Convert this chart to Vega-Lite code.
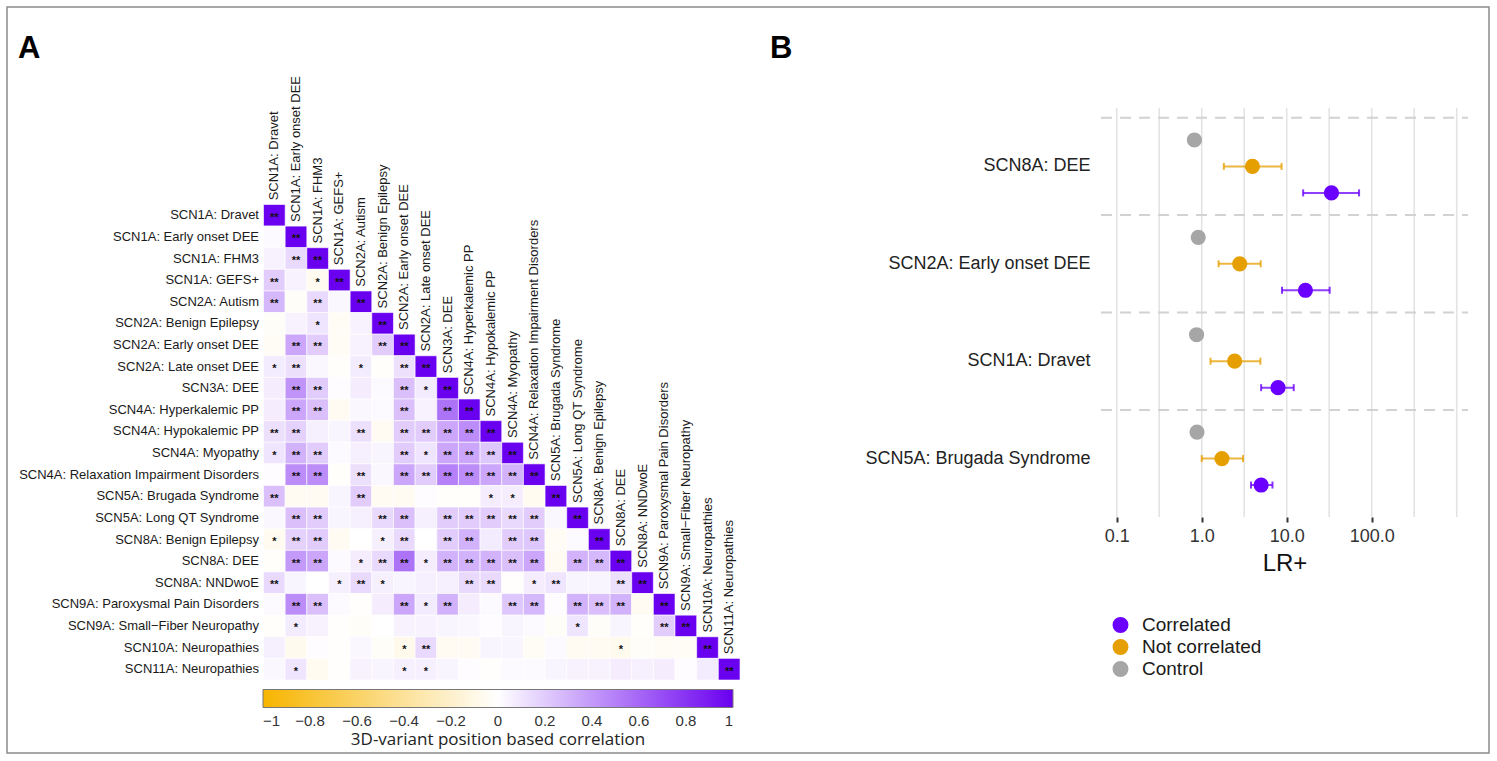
{
"$schema": "https://vega.github.io/schema/vega-lite/v6.json",
"width": 1482, "height": 746,
"autosize": "none",
"padding": {"left": 7, "top": 7, "right": 8, "bottom": 8},
"background": "white",
"config": {"font": "Liberation Sans", "view": {"stroke": "#8a8a8a", "strokeWidth": 1.5}},
"datasets": {
"labels": [
{"i":0,"name":"SCN1A: Dravet"},{"i":1,"name":"SCN1A: Early onset DEE"},{"i":2,"name":"SCN1A: FHM3"},{"i":3,"name":"SCN1A: GEFS+"},
{"i":4,"name":"SCN2A: Autism"},{"i":5,"name":"SCN2A: Benign Epilepsy"},{"i":6,"name":"SCN2A: Early onset DEE"},{"i":7,"name":"SCN2A: Late onset DEE"},
{"i":8,"name":"SCN3A: DEE"},{"i":9,"name":"SCN4A: Hyperkalemic PP"},{"i":10,"name":"SCN4A: Hypokalemic PP"},{"i":11,"name":"SCN4A: Myopathy"},
{"i":12,"name":"SCN4A: Relaxation Impairment Disorders"},{"i":13,"name":"SCN5A: Brugada Syndrome"},{"i":14,"name":"SCN5A: Long QT Syndrome"},
{"i":15,"name":"SCN8A: Benign Epilepsy"},{"i":16,"name":"SCN8A: DEE"},{"i":17,"name":"SCN8A: NNDwoE"},{"i":18,"name":"SCN9A: Paroxysmal Pain Disorders"},
{"i":19,"name":"SCN9A: Small−Fiber Neuropathy"},{"i":20,"name":"SCN10A: Neuropathies"},{"i":21,"name":"SCN11A: Neuropathies"}
],
"corr": [
{"ri":0,"ci":0,"v":1,"s":"**"},
{"ri":1,"ci":0,"v":0.02,"s":""},{"ri":1,"ci":1,"v":1,"s":"**"},
{"ri":2,"ci":0,"v":0.05,"s":""},{"ri":2,"ci":1,"v":0.15,"s":"**"},{"ri":2,"ci":2,"v":1,"s":"**"},
{"ri":3,"ci":0,"v":0.2,"s":"**"},{"ri":3,"ci":1,"v":0.05,"s":""},{"ri":3,"ci":2,"v":-0.06,"s":"*"},{"ri":3,"ci":3,"v":1,"s":"**"},
{"ri":4,"ci":0,"v":0.28,"s":"**"},{"ri":4,"ci":1,"v":-0.03,"s":""},{"ri":4,"ci":2,"v":0.15,"s":"**"},{"ri":4,"ci":3,"v":0.03,"s":""},{"ri":4,"ci":4,"v":1,"s":"**"},
{"ri":5,"ci":0,"v":-0.03,"s":""},{"ri":5,"ci":1,"v":0.05,"s":""},{"ri":5,"ci":2,"v":0.1,"s":"*"},{"ri":5,"ci":3,"v":-0.04,"s":""},{"ri":5,"ci":4,"v":0.05,"s":""},{"ri":5,"ci":5,"v":1,"s":"**"},
{"ri":6,"ci":0,"v":-0.04,"s":""},{"ri":6,"ci":1,"v":0.35,"s":"**"},{"ri":6,"ci":2,"v":0.2,"s":"**"},{"ri":6,"ci":3,"v":-0.04,"s":""},{"ri":6,"ci":4,"v":0.05,"s":""},{"ri":6,"ci":5,"v":0.2,"s":"**"},{"ri":6,"ci":6,"v":1,"s":"**"},
{"ri":7,"ci":0,"v":0.08,"s":"*"},{"ri":7,"ci":1,"v":0.12,"s":"**"},{"ri":7,"ci":2,"v":0.03,"s":""},{"ri":7,"ci":3,"v":-0.02,"s":""},{"ri":7,"ci":4,"v":0.08,"s":"*"},{"ri":7,"ci":5,"v":-0.02,"s":""},{"ri":7,"ci":6,"v":0.12,"s":"**"},{"ri":7,"ci":7,"v":1,"s":"**"},
{"ri":8,"ci":0,"v":0.07,"s":""},{"ri":8,"ci":1,"v":0.42,"s":"**"},{"ri":8,"ci":2,"v":0.2,"s":"**"},{"ri":8,"ci":3,"v":0.01,"s":""},{"ri":8,"ci":4,"v":0.07,"s":""},{"ri":8,"ci":5,"v":0.02,"s":""},{"ri":8,"ci":6,"v":0.25,"s":"**"},{"ri":8,"ci":7,"v":0.08,"s":"*"},{"ri":8,"ci":8,"v":1,"s":"**"},
{"ri":9,"ci":0,"v":0.07,"s":""},{"ri":9,"ci":1,"v":0.35,"s":"**"},{"ri":9,"ci":2,"v":0.25,"s":"**"},{"ri":9,"ci":3,"v":-0.05,"s":""},{"ri":9,"ci":4,"v":0.03,"s":""},{"ri":9,"ci":5,"v":0.02,"s":""},{"ri":9,"ci":6,"v":0.25,"s":"**"},{"ri":9,"ci":7,"v":0.05,"s":""},{"ri":9,"ci":8,"v":0.55,"s":"**"},{"ri":9,"ci":9,"v":1,"s":"**"},
{"ri":10,"ci":0,"v":0.12,"s":"**"},{"ri":10,"ci":1,"v":0.18,"s":"**"},{"ri":10,"ci":2,"v":0.06,"s":""},{"ri":10,"ci":3,"v":0.04,"s":""},{"ri":10,"ci":4,"v":0.12,"s":"**"},{"ri":10,"ci":5,"v":-0.05,"s":""},{"ri":10,"ci":6,"v":0.2,"s":"**"},{"ri":10,"ci":7,"v":0.2,"s":"**"},{"ri":10,"ci":8,"v":0.35,"s":"**"},{"ri":10,"ci":9,"v":0.45,"s":"**"},{"ri":10,"ci":10,"v":1,"s":"**"},
{"ri":11,"ci":0,"v":0.1,"s":"*"},{"ri":11,"ci":1,"v":0.3,"s":"**"},{"ri":11,"ci":2,"v":0.2,"s":"**"},{"ri":11,"ci":3,"v":0.02,"s":""},{"ri":11,"ci":4,"v":0.06,"s":""},{"ri":11,"ci":5,"v":0.04,"s":""},{"ri":11,"ci":6,"v":0.2,"s":"**"},{"ri":11,"ci":7,"v":0.1,"s":"*"},{"ri":11,"ci":8,"v":0.35,"s":"**"},{"ri":11,"ci":9,"v":0.35,"s":"**"},{"ri":11,"ci":10,"v":0.22,"s":"**"},{"ri":11,"ci":11,"v":1,"s":"**"},
{"ri":12,"ci":0,"v":0.01,"s":""},{"ri":12,"ci":1,"v":0.45,"s":"**"},{"ri":12,"ci":2,"v":0.45,"s":"**"},{"ri":12,"ci":3,"v":-0.02,"s":""},{"ri":12,"ci":4,"v":0.12,"s":"**"},{"ri":12,"ci":5,"v":0.03,"s":""},{"ri":12,"ci":6,"v":0.35,"s":"**"},{"ri":12,"ci":7,"v":0.2,"s":"**"},{"ri":12,"ci":8,"v":0.5,"s":"**"},{"ri":12,"ci":9,"v":0.45,"s":"**"},{"ri":12,"ci":10,"v":0.35,"s":"**"},{"ri":12,"ci":11,"v":0.3,"s":"**"},{"ri":12,"ci":12,"v":1,"s":"**"},
{"ri":13,"ci":0,"v":0.25,"s":"**"},{"ri":13,"ci":1,"v":-0.05,"s":""},{"ri":13,"ci":2,"v":-0.05,"s":""},{"ri":13,"ci":3,"v":0.04,"s":""},{"ri":13,"ci":4,"v":0.2,"s":"**"},{"ri":13,"ci":5,"v":-0.05,"s":""},{"ri":13,"ci":6,"v":-0.05,"s":""},{"ri":13,"ci":7,"v":0.01,"s":""},{"ri":13,"ci":8,"v":-0.02,"s":""},{"ri":13,"ci":9,"v":-0.02,"s":""},{"ri":13,"ci":10,"v":0.07,"s":"*"},{"ri":13,"ci":11,"v":0.07,"s":"*"},{"ri":13,"ci":12,"v":-0.06,"s":""},{"ri":13,"ci":13,"v":1,"s":"**"},
{"ri":14,"ci":0,"v":0.03,"s":""},{"ri":14,"ci":1,"v":0.25,"s":"**"},{"ri":14,"ci":2,"v":0.2,"s":"**"},{"ri":14,"ci":3,"v":0.04,"s":""},{"ri":14,"ci":4,"v":0.06,"s":""},{"ri":14,"ci":5,"v":0.15,"s":"**"},{"ri":14,"ci":6,"v":0.25,"s":"**"},{"ri":14,"ci":7,"v":0.06,"s":""},{"ri":14,"ci":8,"v":0.2,"s":"**"},{"ri":14,"ci":9,"v":0.2,"s":"**"},{"ri":14,"ci":10,"v":0.2,"s":"**"},{"ri":14,"ci":11,"v":0.15,"s":"**"},{"ri":14,"ci":12,"v":0.2,"s":"**"},{"ri":14,"ci":13,"v":0.03,"s":""},{"ri":14,"ci":14,"v":1,"s":"**"},
{"ri":15,"ci":0,"v":-0.06,"s":"*"},{"ri":15,"ci":1,"v":0.18,"s":"**"},{"ri":15,"ci":2,"v":0.2,"s":"**"},{"ri":15,"ci":3,"v":-0.05,"s":""},{"ri":15,"ci":4,"v":0,"s":""},{"ri":15,"ci":5,"v":0.06,"s":"*"},{"ri":15,"ci":6,"v":0.15,"s":"**"},{"ri":15,"ci":7,"v":0,"s":""},{"ri":15,"ci":8,"v":0.2,"s":"**"},{"ri":15,"ci":9,"v":0.3,"s":"**"},{"ri":15,"ci":10,"v":0.08,"s":""},{"ri":15,"ci":11,"v":0.2,"s":"**"},{"ri":15,"ci":12,"v":0.22,"s":"**"},{"ri":15,"ci":13,"v":-0.04,"s":""},{"ri":15,"ci":14,"v":0.02,"s":""},{"ri":15,"ci":15,"v":1,"s":"**"},
{"ri":16,"ci":0,"v":-0.02,"s":""},{"ri":16,"ci":1,"v":0.4,"s":"**"},{"ri":16,"ci":2,"v":0.35,"s":"**"},{"ri":16,"ci":3,"v":0.02,"s":""},{"ri":16,"ci":4,"v":0.07,"s":"*"},{"ri":16,"ci":5,"v":0.15,"s":"**"},{"ri":16,"ci":6,"v":0.55,"s":"**"},{"ri":16,"ci":7,"v":0.07,"s":"*"},{"ri":16,"ci":8,"v":0.3,"s":"**"},{"ri":16,"ci":9,"v":0.3,"s":"**"},{"ri":16,"ci":10,"v":0.3,"s":"**"},{"ri":16,"ci":11,"v":0.25,"s":"**"},{"ri":16,"ci":12,"v":0.35,"s":"**"},{"ri":16,"ci":13,"v":-0.05,"s":""},{"ri":16,"ci":14,"v":0.3,"s":"**"},{"ri":16,"ci":15,"v":0.28,"s":"**"},{"ri":16,"ci":16,"v":1,"s":"**"},
{"ri":17,"ci":0,"v":0.15,"s":"**"},{"ri":17,"ci":1,"v":0.04,"s":""},{"ri":17,"ci":2,"v":0,"s":""},{"ri":17,"ci":3,"v":0.06,"s":"*"},{"ri":17,"ci":4,"v":0.15,"s":"**"},{"ri":17,"ci":5,"v":0.06,"s":"*"},{"ri":17,"ci":6,"v":0.04,"s":""},{"ri":17,"ci":7,"v":0.06,"s":""},{"ri":17,"ci":8,"v":0.06,"s":""},{"ri":17,"ci":9,"v":0.15,"s":"**"},{"ri":17,"ci":10,"v":0.15,"s":"**"},{"ri":17,"ci":11,"v":-0.01,"s":""},{"ri":17,"ci":12,"v":0.07,"s":"*"},{"ri":17,"ci":13,"v":0.1,"s":"**"},{"ri":17,"ci":14,"v":0.04,"s":""},{"ri":17,"ci":15,"v":0.04,"s":""},{"ri":17,"ci":16,"v":0.12,"s":"**"},{"ri":17,"ci":17,"v":1,"s":"**"},
{"ri":18,"ci":0,"v":0.02,"s":""},{"ri":18,"ci":1,"v":0.45,"s":"**"},{"ri":18,"ci":2,"v":0.25,"s":"**"},{"ri":18,"ci":3,"v":0.02,"s":""},{"ri":18,"ci":4,"v":-0.01,"s":""},{"ri":18,"ci":5,"v":0.07,"s":""},{"ri":18,"ci":6,"v":0.35,"s":"**"},{"ri":18,"ci":7,"v":0.08,"s":"*"},{"ri":18,"ci":8,"v":0.3,"s":"**"},{"ri":18,"ci":9,"v":0.07,"s":""},{"ri":18,"ci":10,"v":0.02,"s":""},{"ri":18,"ci":11,"v":0.22,"s":"**"},{"ri":18,"ci":12,"v":0.28,"s":"**"},{"ri":18,"ci":13,"v":0.01,"s":""},{"ri":18,"ci":14,"v":0.3,"s":"**"},{"ri":18,"ci":15,"v":0.25,"s":"**"},{"ri":18,"ci":16,"v":0.3,"s":"**"},{"ri":18,"ci":17,"v":-0.05,"s":""},{"ri":18,"ci":18,"v":1,"s":"**"},
{"ri":19,"ci":0,"v":-0.02,"s":""},{"ri":19,"ci":1,"v":0.08,"s":"*"},{"ri":19,"ci":2,"v":0.05,"s":""},{"ri":19,"ci":3,"v":-0.01,"s":""},{"ri":19,"ci":4,"v":-0.03,"s":""},{"ri":19,"ci":5,"v":0,"s":""},{"ri":19,"ci":6,"v":0.05,"s":""},{"ri":19,"ci":7,"v":0.05,"s":""},{"ri":19,"ci":8,"v":0.04,"s":""},{"ri":19,"ci":9,"v":0.03,"s":""},{"ri":19,"ci":10,"v":0.01,"s":""},{"ri":19,"ci":11,"v":0.04,"s":""},{"ri":19,"ci":12,"v":0.02,"s":""},{"ri":19,"ci":13,"v":-0.03,"s":""},{"ri":19,"ci":14,"v":0.1,"s":"*"},{"ri":19,"ci":15,"v":-0.03,"s":""},{"ri":19,"ci":16,"v":0.04,"s":""},{"ri":19,"ci":17,"v":-0.02,"s":""},{"ri":19,"ci":18,"v":0.2,"s":"**"},{"ri":19,"ci":19,"v":1,"s":"**"},
{"ri":20,"ci":0,"v":0.06,"s":""},{"ri":20,"ci":1,"v":-0.07,"s":""},{"ri":20,"ci":2,"v":0.01,"s":""},{"ri":20,"ci":3,"v":-0.01,"s":""},{"ri":20,"ci":4,"v":0.03,"s":""},{"ri":20,"ci":5,"v":-0.03,"s":""},{"ri":20,"ci":6,"v":-0.08,"s":"*"},{"ri":20,"ci":7,"v":0.15,"s":"**"},{"ri":20,"ci":8,"v":-0.05,"s":""},{"ri":20,"ci":9,"v":-0.05,"s":""},{"ri":20,"ci":10,"v":0.04,"s":""},{"ri":20,"ci":11,"v":0.04,"s":""},{"ri":20,"ci":12,"v":-0.04,"s":""},{"ri":20,"ci":13,"v":0.02,"s":""},{"ri":20,"ci":14,"v":-0.05,"s":""},{"ri":20,"ci":15,"v":-0.05,"s":""},{"ri":20,"ci":16,"v":-0.07,"s":"*"},{"ri":20,"ci":17,"v":-0.03,"s":""},{"ri":20,"ci":18,"v":-0.04,"s":""},{"ri":20,"ci":19,"v":-0.04,"s":""},{"ri":20,"ci":20,"v":1,"s":"**"},
{"ri":21,"ci":0,"v":0.03,"s":""},{"ri":21,"ci":1,"v":0.1,"s":"*"},{"ri":21,"ci":2,"v":-0.06,"s":""},{"ri":21,"ci":3,"v":-0.01,"s":""},{"ri":21,"ci":4,"v":0.05,"s":""},{"ri":21,"ci":5,"v":0.04,"s":""},{"ri":21,"ci":6,"v":0.06,"s":"*"},{"ri":21,"ci":7,"v":0.06,"s":"*"},{"ri":21,"ci":8,"v":0.04,"s":""},{"ri":21,"ci":9,"v":0.01,"s":""},{"ri":21,"ci":10,"v":-0.01,"s":""},{"ri":21,"ci":11,"v":0.02,"s":""},{"ri":21,"ci":12,"v":0.02,"s":""},{"ri":21,"ci":13,"v":0.04,"s":""},{"ri":21,"ci":14,"v":0.05,"s":""},{"ri":21,"ci":15,"v":0.05,"s":""},{"ri":21,"ci":16,"v":0.07,"s":""},{"ri":21,"ci":17,"v":0.06,"s":""},{"ri":21,"ci":18,"v":0.07,"s":""},{"ri":21,"ci":19,"v":0.01,"s":""},{"ri":21,"ci":20,"v":0.08,"s":""},{"ri":21,"ci":21,"v":1,"s":"**"}
],
"lr": [
{"g":"SCN8A: DEE","st":"Control","lr":0.82},
{"g":"SCN8A: DEE","st":"Not correlated","lr":3.95,"lo":1.82,"hi":8.7},
{"g":"SCN8A: DEE","st":"Correlated","lr":33.6,"lo":15.6,"hi":71},
{"g":"SCN2A: Early onset DEE","st":"Control","lr":0.91},
{"g":"SCN2A: Early onset DEE","st":"Not correlated","lr":2.8,"lo":1.58,"hi":4.94},
{"g":"SCN2A: Early onset DEE","st":"Correlated","lr":16.6,"lo":8.8,"hi":32},
{"g":"SCN1A: Dravet","st":"Control","lr":0.87},
{"g":"SCN1A: Dravet","st":"Not correlated","lr":2.44,"lo":1.27,"hi":4.9},
{"g":"SCN1A: Dravet","st":"Correlated","lr":7.9,"lo":5.0,"hi":12.1},
{"g":"SCN5A: Brugada Syndrome","st":"Control","lr":0.88},
{"g":"SCN5A: Brugada Syndrome","st":"Not correlated","lr":1.73,"lo":1.0,"hi":3.06},
{"g":"SCN5A: Brugada Syndrome","st":"Correlated","lr":5.0,"lo":3.8,"hi":6.8}
],
"gridvals": [{"gv":0.1},{"gv":0.31623},{"gv":1},{"gv":3.1623},{"gv":10},{"gv":31.623},{"gv":100},{"gv":316.23},{"gv":1000}],
"groups": [{"g":"SCN8A: DEE"},{"g":"SCN2A: Early onset DEE"},{"g":"SCN1A: Dravet"},{"g":"SCN5A: Brugada Syndrome"}],
"panels": [{"p":"A"},{"p":"B"}]
},
"layer": [
{
"layer": [
{
"data": {"name": "corr"},
"transform": [
{"lookup": "ri", "from": {"data": {"name": "labels"}, "key": "i", "fields": ["name"]}, "as": ["r"]},
{"lookup": "ci", "from": {"data": {"name": "labels"}, "key": "i", "fields": ["name"]}, "as": ["c"]}
],
"mark": {"type": "rect", "stroke": "white", "strokeWidth": 0.6},
"encoding": {
"x": {"field": "c", "type": "nominal", "axis": null, "scale": {"type": "band", "domain": ["SCN1A: Dravet","SCN1A: Early onset DEE","SCN1A: FHM3","SCN1A: GEFS+","SCN2A: Autism","SCN2A: Benign Epilepsy","SCN2A: Early onset DEE","SCN2A: Late onset DEE","SCN3A: DEE","SCN4A: Hyperkalemic PP","SCN4A: Hypokalemic PP","SCN4A: Myopathy","SCN4A: Relaxation Impairment Disorders","SCN5A: Brugada Syndrome","SCN5A: Long QT Syndrome","SCN8A: Benign Epilepsy","SCN8A: DEE","SCN8A: NNDwoE","SCN9A: Paroxysmal Pain Disorders","SCN9A: Small−Fiber Neuropathy","SCN10A: Neuropathies","SCN11A: Neuropathies"], "range": [256.5, 733], "paddingInner": 0, "paddingOuter": 0}},
"y": {"field": "r", "type": "nominal", "scale": {"type": "band", "domain": ["SCN1A: Dravet","SCN1A: Early onset DEE","SCN1A: FHM3","SCN1A: GEFS+","SCN2A: Autism","SCN2A: Benign Epilepsy","SCN2A: Early onset DEE","SCN2A: Late onset DEE","SCN3A: DEE","SCN4A: Hyperkalemic PP","SCN4A: Hypokalemic PP","SCN4A: Myopathy","SCN4A: Relaxation Impairment Disorders","SCN5A: Brugada Syndrome","SCN5A: Long QT Syndrome","SCN8A: Benign Epilepsy","SCN8A: DEE","SCN8A: NNDwoE","SCN9A: Paroxysmal Pain Disorders","SCN9A: Small−Fiber Neuropathy","SCN10A: Neuropathies","SCN11A: Neuropathies"], "range": [197.5, 673], "paddingInner": 0, "paddingOuter": 0},
"axis": {"orient": "left", "offset": -256.5, "title": null, "ticks": false, "domain": false, "grid": false, "labelPadding": 5, "labelFontSize": 13, "labelColor": "#1a1a1a", "labelOverlap": false, "labelLimit": 400}},
"color": {"field": "v", "type": "quantitative", "scale": {"domain": [-1, 0, 1], "range": ["#F7B500", "#FFFFFF", "#6A00F0"], "interpolate": "rgb"},
"legend": {"orient": "none", "legendX": 256, "legendY": 682.5, "direction": "horizontal", "gradientLength": 470, "gradientThickness": 18, "title": "3D-variant position based correlation", "titleLimit": 600, "titleOrient": "bottom", "titleAnchor": "middle", "titleFont": "Open Sans", "titleFontSize": 17, "titleFontWeight": "normal", "titleColor": "#222", "titlePadding": 3, "values": [-1,-0.8,-0.6,-0.4,-0.2,0,0.2,0.4,0.6,0.8,1], "format": ".1~f", "labelFontSize": 15, "labelColor": "#333", "labelOffset": 6, "labelOverlap": false, "labelAlign": "center", "gradientStrokeColor": "#777", "gradientStrokeWidth": 1, "padding": 0}}
}
},
{
"data": {"name": "corr"},
"transform": [
{"lookup": "ri", "from": {"data": {"name": "labels"}, "key": "i", "fields": ["name"]}, "as": ["r"]},
{"lookup": "ci", "from": {"data": {"name": "labels"}, "key": "i", "fields": ["name"]}, "as": ["c"]}
],
"mark": {"type": "text", "fontSize": 11, "fontWeight": "bold", "color": "#111", "baseline": "middle", "dy": 2.5},
"encoding": {
"x": {"field": "c", "type": "nominal"},
"y": {"field": "r", "type": "nominal"},
"text": {"field": "s"}
}
},
{
"data": {"name": "labels"},
"mark": {"type": "text", "fontSize": 13, "color": "#1a1a1a", "angle": 270, "align": "left", "baseline": "middle", "dx": 15},
"encoding": {
"x": {"field": "name", "type": "nominal"},
"y": {"field": "name", "type": "nominal"},
"text": {"field": "name"}
}
}
]
},
{
"data": {"name": "panels"},
"mark": {"type": "text", "font": "Liberation Sans Narrow, Liberation Sans", "fontWeight": "bold", "fontSize": 31, "align": "left", "baseline": "alphabetic", "color": "black"},
"encoding": {
"x": {"field": "p", "type": "nominal", "axis": null, "scale": {"type": "point", "domain": ["A", "B"], "range": [11, 763], "padding": 0}},
"y": {"field": "p", "type": "nominal", "axis": null, "scale": {"type": "point", "domain": ["A", "B"], "range": [51, 51], "padding": 0}},
"text": {"field": "p"}
}
},
{
"layer": [
{
"data": {"name": "gridvals"},
"mark": {"type": "rule", "color": "#e3e3e3", "strokeWidth": 1.6},
"encoding": {
"x": {"field": "gv", "type": "quantitative", "axis": null, "scale": {"type": "log", "domain": [0.0653, 1358], "range": [1094, 1461], "nice": false}},
"y": {"datum": 0, "type": "quantitative", "axis": null, "scale": {"domain": [0, 1], "range": [101, 510], "nice": false, "zero": false}},
"y2": {"datum": 1}
}
},
{
"mark": {"type": "rule", "color": "#6e6e6e", "strokeWidth": 2, "strokeDash": [1.5, 3.5]},
"encoding": {
"x": {"datum": 1, "type": "quantitative"},
"y": {"datum": 0, "type": "quantitative"},
"y2": {"datum": 1}
}
}
]
},
{
"layer": [
{
"data": {"name": "groups"},
"mark": {"type": "rule", "strokeDash": [11, 8], "color": "#d2d2d2", "strokeWidth": 2},
"encoding": {
"y": {"field": "g", "type": "nominal", "bandPosition": 0, "scale": {"type": "band", "domain": ["SCN8A: DEE","SCN2A: Early onset DEE","SCN1A: Dravet","SCN5A: Brugada Syndrome"], "range": [101, 510], "paddingInner": 0, "paddingOuter": 0.1}},
"x": {"datum": 0.0653, "type": "quantitative", "scale": {"type": "log", "domain": [0.0653, 1358], "range": [1094, 1461], "nice": false}},
"x2": {"datum": 1358}
}
},
{
"data": {"name": "lr"},
"transform": [{"filter": "isValid(datum.lo)"}],
"mark": {"type": "rule", "strokeWidth": 2, "opacity": 0.75},
"encoding": {
"y": {"field": "g", "type": "nominal"},
"yOffset": {"field": "st", "type": "nominal", "scale": {"type": "band", "domain": ["Control", "Not correlated", "Correlated"], "paddingInner": 0, "paddingOuter": 0.34}},
"x": {"field": "lo", "type": "quantitative"},
"x2": {"field": "hi"},
"stroke": {"field": "st", "type": "nominal", "legend": null, "scale": {"domain": ["Correlated", "Not correlated", "Control"], "range": ["#6A00FF", "#E69F00", "#A6A6A6"]}}
}
},
{
"data": {"name": "lr"},
"transform": [{"filter": "isValid(datum.lo)"}, {"fold": ["lo", "hi"], "as": ["end", "val"]}],
"mark": {"type": "tick", "size": 7, "thickness": 2, "opacity": 0.8},
"encoding": {
"y": {"field": "g", "type": "nominal"},
"yOffset": {"field": "st", "type": "nominal"},
"x": {"field": "val", "type": "quantitative"},
"fill": {"field": "st", "type": "nominal", "legend": null, "scale": {"domain": ["Correlated", "Not correlated", "Control"], "range": ["#6A00FF", "#E69F00", "#A6A6A6"]}}
}
},
{
"data": {"name": "lr"},
"mark": {"type": "point", "filled": true, "size": 230, "opacity": 1},
"encoding": {
"y": {"field": "g", "type": "nominal", "axis": {"orient": "left", "offset": -1094, "title": null, "ticks": false, "domain": false, "grid": false, "labelFontSize": 18, "labelColor": "#222", "labelPadding": 11, "labelLimit": 400}},
"yOffset": {"field": "st", "type": "nominal"},
"x": {"field": "lr", "type": "quantitative",
"axis": {"orient": "bottom", "offset": -236, "values": [0.1, 1, 10, 100],
"format": ".1f",
"title": "LR+", "titleFontSize": 24, "titleFontWeight": "normal", "titleColor": "#111", "titlePadding": 6,
"labelFontSize": 18, "labelColor": "#333", "labelPadding": 5, "labelOverlap": false, "labelFlush": false, "domain": false,
"tickSize": 5, "tickWidth": 2, "tickColor": "#333", "grid": false}},
"color": {"field": "st", "type": "nominal", "scale": {"domain": ["Correlated", "Not correlated", "Control"], "range": ["#6A00FF", "#E69F00", "#A6A6A6"]},
"legend": {"orient": "none", "legendX": 1104, "legendY": 608.5, "title": null, "labelFontSize": 19, "labelColor": "#1a1a1a", "symbolType": "circle", "symbolSize": 254, "labelOffset": 12, "rowPadding": 2, "padding": 0, "symbolStrokeWidth": 0}}
}
}
]
}
],
"resolve": {"scale": {"x": "independent", "y": "independent", "color": "independent"}, "axis": {"x": "independent", "y": "independent"}, "legend": {"color": "independent"}}
}
